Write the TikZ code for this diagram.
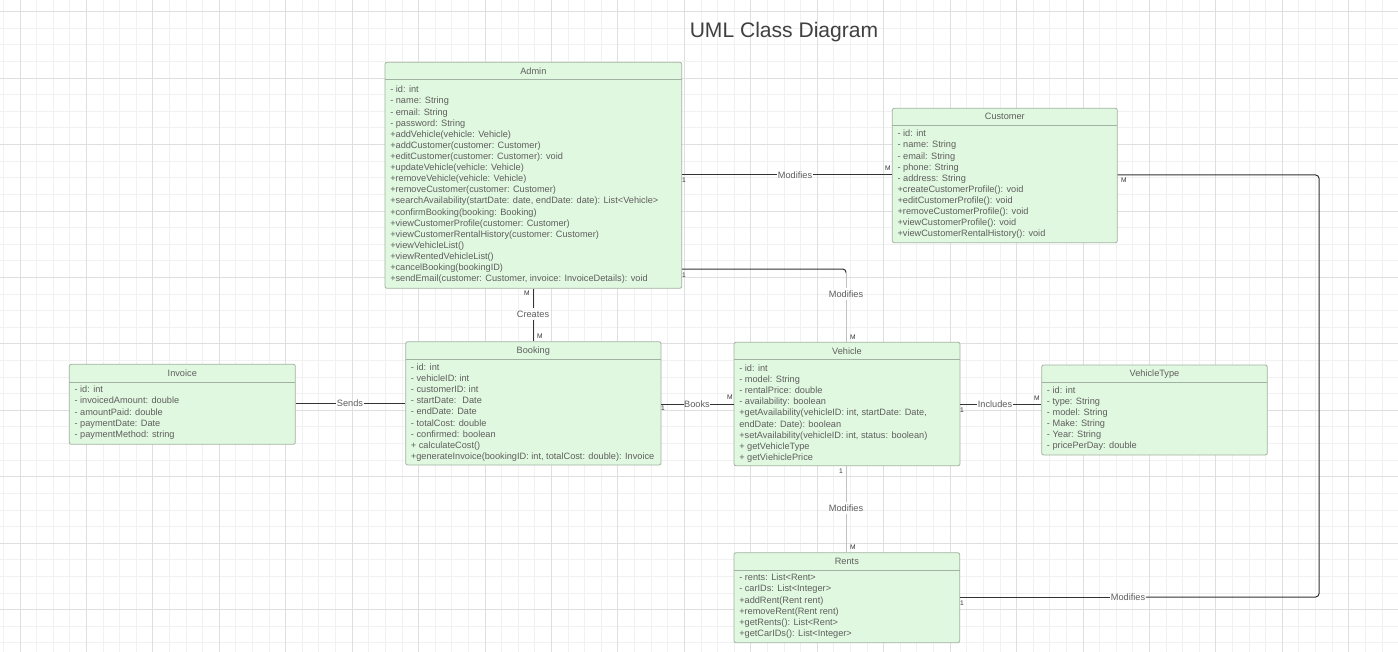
\documentclass[tikz,border=0pt]{standalone}
\usepackage{fontspec}
\setmainfont{Liberation Sans}
\usetikzlibrary{fit,calc}
\definecolor{boxfill}{HTML}{E1F8E0}
\definecolor{boxdraw}{HTML}{A2B2A2}
\definecolor{txt}{HTML}{5E5E5E}
\definecolor{dark}{HTML}{333333}
\definecolor{lightline}{HTML}{C2C2C2}
\definecolor{gridminor}{HTML}{F1F1F1}
\definecolor{gridmajor}{HTML}{DFDFDF}
\definecolor{titlecol}{HTML}{404040}
\tikzset{
  classbox/.style={draw=boxdraw, fill=boxfill, rounded corners=1.5pt, inner sep=0pt, line width=0.6pt},
  sepline/.style={draw=boxdraw, line width=0.6pt},
  headtext/.style={font=\fontsize{6.9}{8.33}\selectfont, text=txt, anchor=base, inner sep=0pt},
  bodytext/.style={font=\fontsize{6.9}{8.33}\selectfont, text=txt, anchor=north west, inner sep=0pt, align=left},
  rel/.style={draw=dark, line width=0.75pt},
  rellight/.style={draw=lightline, line width=0.75pt},
  rellabel/.style={font=\fontsize{6.9}{8.33}\selectfont, text=txt, inner xsep=0.3pt, inner ysep=2pt},
  mult/.style={font=\fontsize{5}{6}\selectfont, text=dark, inner sep=0pt},
  titletext/.style={font=\fontsize{15.8}{19}\selectfont, text=titlecol, anchor=base, inner sep=0pt},
}
% #1 name, #2 left, #3 top, #4 right, #5 bottom, #6 separator y, #7 title, #8 first line centre y, #9 body
\newcommand\umlclass[9]{%
  \node[classbox, fit={(#2,#3) (#4,#5)}] (#1) {};
  \draw[sepline] (#2,#6) -- (#4,#6);
  \node[headtext] (#1-title) at ({(#2+#4)/2},{(#3+#6)/2+3.3}) {#7};
  \node[bodytext] (#1-body) at ({#2+5},{#8-4.5}) {\strut#9};
}
\begin{document}
\begin{tikzpicture}[x=0.75pt,y=-0.75pt]
\useasboundingbox (0,0) rectangle (1398,652);
\fill[white] (0,0) rectangle (1398,652);
% grid
\begin{scope}
\clip (0,0) rectangle (1398,652);
\foreach \i in {0,...,84} {\pgfmathsetmacro\gx{3.39+16.61*\i}\draw[gridminor, line width=0.75pt] (\gx,0) -- (\gx,652);}
\foreach \j in {0,...,39} {\pgfmathsetmacro\gy{11.7+16.61*\j}\draw[gridminor, line width=0.75pt] (0,\gy) -- (1398,\gy);}
\foreach \i in {0,...,21} {\pgfmathsetmacro\gx{20+66.44*\i}\draw[gridmajor, line width=0.75pt] (\gx,0) -- (\gx,652);}
\foreach \j in {0,...,9} {\pgfmathsetmacro\gy{11.7+66.44*\j}\draw[gridmajor, line width=0.75pt] (0,\gy) -- (1398,\gy);}
\end{scope}

\node[titletext] (title) at (784,37.5) {UML Class Diagram};

\umlclass{admin}{385}{62.3}{681.7}{288.3}{79.3}{Admin}{89.3}{%
- id: int\\
- name: String\\
- email: String\\
- password: String\\
+addVehicle(vehicle: Vehicle)\\
+addCustomer(customer: Customer)\\
+editCustomer(customer: Customer): void\\
+updateVehicle(vehicle: Vehicle)\\
+removeVehicle(vehicle: Vehicle)\\
+removeCustomer(customer: Customer)\\
+searchAvailability(startDate: date, endDate: date): List<Vehicle>\\
+confirmBooking(booking: Booking)\\
+viewCustomerProfile(customer: Customer)\\
+viewCustomerRentalHistory(customer: Customer)\\
+viewVehicleList()\\
+viewRentedVehicleList()\\
+cancelBooking(bookingID)\\
+sendEmail(customer: Customer, invoice: InvoiceDetails): void}

\umlclass{customer}{892.3}{108.3}{1117.3}{242.7}{125}{Customer}{133.3}{%
- id: int\\
- name: String\\
- email: String\\
- phone: String\\
- address: String\\
+createCustomerProfile(): void\\
+editCustomerProfile(): void\\
+removeCustomerProfile(): void\\
+viewCustomerProfile(): void\\
+viewCustomerRentalHistory(): void}

\umlclass{invoice}{69.3}{364.3}{295.3}{444.3}{382.3}{Invoice}{389.3}{%
- id: int\\
- invoicedAmount: double\\
- amountPaid: double\\
- paymentDate: Date\\
- paymentMethod: string}

\umlclass{booking}{405.7}{341.7}{661}{465}{359.3}{Booking}{367}{%
- id: int\\
- vehicleID: int\\
- customerID: int\\
- startDate: \ Date\\
- endDate: Date\\
- totalCost: double\\
- confirmed: boolean\\
+ calculateCost()\\
+generateInvoice(bookingID: int, totalCost: double): Invoice}

\umlclass{vehicle}{734}{342.3}{960}{465.7}{359.3}{Vehicle}{368}{%
- id: int\\
- model: String\\
- rentalPrice: double\\
- availability: boolean\\
+getAvailability(vehicleID: int, startDate: Date,\\
endDate: Date): boolean\\
+setAvailability(vehicleID: int, status: boolean)\\
+ getVehicleType\\
+ getViehiclePrice}

\umlclass{vehicletype}{1041.7}{365}{1267.3}{455}{382.3}{VehicleType}{389.7}{%
- id: int\\
- type: String\\
- model: String\\
- Make: String\\
- Year: String\\
- pricePerDay: double}

\umlclass{rents}{734}{552.7}{959.7}{642.7}{570}{Rents}{577.3}{%
- rents: List<Rent>\\
- carIDs: List<Integer>\\
+addRent(Rent rent)\\
+removeRent(Rent rent)\\
+getRents(): List<Rent>\\
+getCarIDs(): List<Integer>}

% Admin -- Customer
\node[rellabel] (l1) at (795,175) {Modifies};
\draw[rel] (admin.east |- l1) -- (l1.west);
\draw[rel] (l1.east) -- (customer.west |- l1);
\node[mult] (m1a) at (684,180) {1};
\node[mult] (m1b) at (888,168) {M};

% Admin -- Vehicle
\coordinate (c2) at (846,269);
\node[rellabel] (l2) at (846,294) {Modifies};
\draw[rel, rounded corners=2.5pt] (admin.east |- c2) -- (c2) -- ($(c2)+(0,3)$);
\draw[rellight] ($(c2)+(0,3)$) -- (l2.north);
\draw[rellight] (l2.south) -- (vehicle.north -| l2);
\node[mult] (m2a) at (684,275) {1};
\node[mult] (m2b) at (853,337) {M};

% Admin -- Booking
\node[rellabel] (l3) at (533,314) {Creates};
\draw[rel] (admin.south -| l3) -- (l3.north);
\draw[rel] (l3.south) -- (booking.north -| l3);
\node[mult] (m3a) at (527,293) {M};
\node[mult] (m3b) at (540,336) {M};

% Invoice -- Booking
\node[rellabel] (l4) at (350,403) {Sends};
\draw[rel] (invoice.east |- l4) -- (l4.west);
\draw[rel] (l4.east) -- (booking.west |- l4);

% Booking -- Vehicle
\node[rellabel] (l5) at (697,404) {Books};
\draw[rel] (booking.east |- l5) -- (l5.west);
\draw[rel] (l5.east) -- (vehicle.west |- l5);
\node[mult] (m5a) at (663,408) {1};
\node[mult] (m5b) at (730,397) {M};

% Vehicle -- VehicleType
\node[rellabel] (l6) at (995,404) {Includes};
\draw[rel] (vehicle.east |- l6) -- (l6.west);
\draw[rel] (l6.east) -- (vehicletype.west |- l6);
\node[mult] (m6a) at (962,410) {1};
\node[mult] (m6b) at (1037,398) {M};

% Vehicle -- Rents
\node[rellabel] (l7) at (846,508) {Modifies};
\draw[rellight] (vehicle.south -| l7) -- (l7.north);
\draw[rellight] (l7.south) -- (rents.north -| l7);
\node[mult] (m7a) at (841,471) {1};
\node[mult] (m7b) at (853,547) {M};

% Customer -- Rents
\coordinate (c8a) at (1319,175);
\coordinate (c8b) at (1319,597);
\node[rellabel] (l8) at (1128,597) {Modifies};
\draw[rel, rounded corners=2.5pt] (customer.east |- c8a) -- (c8a) -- (c8b) -- (l8.east);
\draw[rel] (l8.west) -- (rents.east |- l8);
\node[mult] (m8a) at (1124,180) {M};
\node[mult] (m8b) at (962,603) {1};
\end{tikzpicture}
\end{document}
